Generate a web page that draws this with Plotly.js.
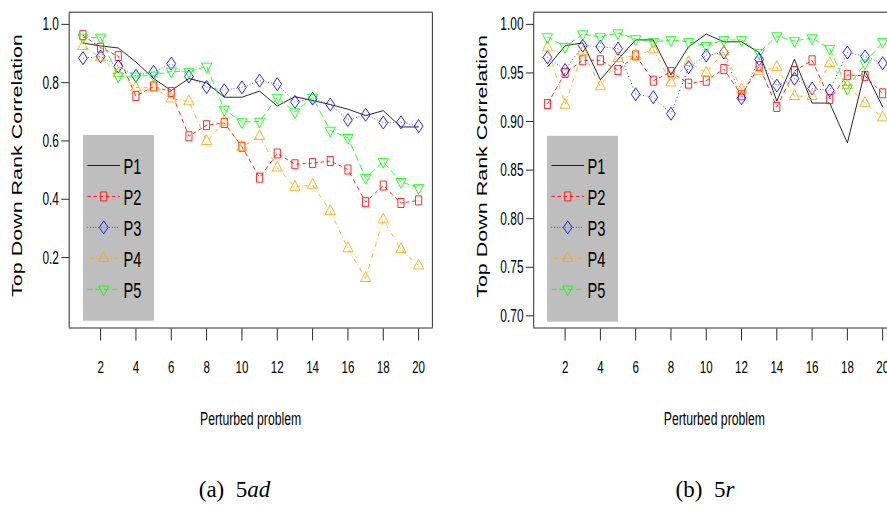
<!DOCTYPE html>
<html>
<head>
<meta charset="utf-8">
<script src="https://cdn.plot.ly/plotly-3.0.1.min.js"></script>
<style>
html,body{margin:0;padding:0;overflow:hidden;background:#fff;width:887px;height:505px}
#wrap{width:887px;height:505px;overflow:hidden;position:relative}
#chart{position:absolute;left:0;top:0;transform:scaleX(0.68);transform-origin:0 0}
.cap{position:absolute;top:477px;font-family:"Liberation Serif","Times New Roman",serif;font-size:23px;line-height:26px;color:#000;white-space:nowrap;transform:translateX(-50%)}
</style>
</head>
<body>
<div id="wrap"><div id="chart"></div>
<div class="cap" style="left:234.5px">(a)&nbsp;&nbsp;5<i>ad</i></div>
<div class="cap" style="left:705px">(b)&nbsp;&nbsp;5<i>r</i></div>
</div>
<script>
// ---- data ----
const problems = [1,2,3,4,5,6,7,8,9,10,11,12,13,14,15,16,17,18,19,20];
const seriesNames = ["P1","P2","P3","P4","P5"];
const xTicks = [2,4,6,8,10,12,14,16,18,20];
const yTicksAd = [0.2,0.4,0.6,0.8,1.0];
const yTicksR = [0.70,0.75,0.80,0.85,0.90,0.95,1.00];

// panel (a) 5ad
const p1_ad = [0.936,0.926,0.919,0.871,0.814,0.773,0.814,0.799,0.750,0.750,0.771,0.720,0.752,0.739,0.725,0.709,0.687,0.704,0.648,0.648];
const p2_ad = [0.963,0.920,0.891,0.754,0.787,0.768,0.616,0.654,0.662,0.580,0.474,0.557,0.520,0.524,0.531,0.502,0.390,0.447,0.387,0.396];
const p3_ad = [0.884,0.890,0.856,0.824,0.837,0.865,0.821,0.785,0.774,0.784,0.807,0.795,0.734,0.745,0.725,0.672,0.690,0.663,0.664,0.651];
const p4_ad = [0.925,0.886,0.831,0.783,0.783,0.745,0.735,0.599,0.665,0.579,0.616,0.508,0.442,0.449,0.359,0.231,0.129,0.330,0.228,0.172];
const p5_ad = [0.955,0.955,0.822,0.822,0.825,0.839,0.837,0.856,0.708,0.665,0.667,0.749,0.699,0.749,0.636,0.611,0.474,0.529,0.460,0.439];

// panel (b) 5r
const p1_r = [0.956,0.978,0.981,0.943,0.964,0.984,0.984,0.948,0.977,0.990,0.982,0.982,0.971,0.921,0.964,0.919,0.919,0.878,0.952,0.915];
const p2_r = [0.918,0.950,0.963,0.963,0.953,0.968,0.942,0.951,0.939,0.942,0.954,0.927,0.957,0.915,0.952,0.963,0.923,0.948,0.947,0.929];
const p3_r = [0.966,0.953,0.978,0.977,0.975,0.928,0.925,0.908,0.956,0.968,0.971,0.924,0.964,0.937,0.944,0.934,0.932,0.971,0.967,0.960];
const p4_r = [0.976,0.917,0.972,0.936,0.965,0.968,0.974,0.940,0.961,0.950,0.972,0.933,0.952,0.956,0.926,0.926,0.960,0.937,0.919,0.904];
const p5_r = [0.987,0.977,0.990,0.987,0.991,0.985,0.982,0.984,0.982,0.978,0.984,0.984,0.971,0.988,0.983,0.986,0.975,0.934,0.960,0.982];

// ---- geometry helpers (screen px -> paper fraction) ----
const S = 0.68;          // horizontal squeeze of the whole figure
const PW = 905;          // paper width in screen px (right panel runs past the window)
const PH = 505;
const fx = sx => sx / PW;
const fy = sy => 1 - sy / PH;

const SANS = "Liberation Sans, Arial, Helvetica, sans-serif";

const styles = [
  {color:"#000000", dash:"solid", symbol:null, size:0},
  {color:"#FF0000", dash:"5px,4px", symbol:"square-open", size:9},
  {color:"#0000FF", dash:"1px,3px", symbol:"diamond-open", size:10},
  {color:"#FFA500", dash:"1px,3px,5px,3px", symbol:"triangle-up-open", size:13},
  {color:"#00FF00", dash:"8px,4px", symbol:"triangle-down-open", size:13}
];

function makeTraces(seriesList, xa, ya, legendId){
  return seriesList.map((vals, i) => {
    const st = styles[i];
    const t = {
      x: problems, y: vals, name: seriesNames[i],
      xaxis: xa, yaxis: ya, legend: legendId,
      type: "scatter",
      mode: st.symbol ? "lines+markers" : "lines",
      line: {color: st.color, width: 1, dash: st.dash},
      cliponaxis: false
    };
    if (st.symbol) t.marker = {symbol: st.symbol, size: st.size, color: st.color, line:{width:1, color: st.color}};
    return t;
  });
}

const traces = [].concat(
  makeTraces([p1_ad,p2_ad,p3_ad,p4_ad,p5_ad], "x", "y", "legend"),
  makeTraces([p1_r,p2_r,p3_r,p4_r,p5_r], "x2", "y2", "legend2")
);

const axisCommon = {
  showgrid:false, zeroline:false, showline:true, mirror:true,
  linecolor:"#000", linewidth:1, ticks:"outside", tickcolor:"#000", tickwidth:1
};
const yDomain = [fy(327.5), fy(12.7)];

const legendCommon = {
  bgcolor:"rgba(0,0,0,0)", borderwidth:0, xanchor:"left", yanchor:"top",
  font:{family:SANS, size:21.5, color:"#000"}, tracegroupgap:0, itemwidth:48
};

const layout = {
  width: PW / S, height: PH,
  margin:{l:0,r:0,t:0,b:0,pad:0},
  paper_bgcolor:"#ffffff", plot_bgcolor:"#ffffff",
  showlegend:true,
  xaxis: Object.assign({}, axisCommon, {
    domain:[fx(69.5), fx(432)], range:[0.24,20.76], anchor:"y",
    tickvals:xTicks, ticklen:12, ticklabelstandoff:12,
    tickfont:{family:SANS, size:17, color:"#000"}
  }),
  yaxis: Object.assign({}, axisCommon, {
    domain:yDomain, range:[-0.04,1.04], anchor:"x",
    tickvals:yTicksAd, tickformat:".1f", ticklen:11,
    tickfont:{family:SANS, size:17.5, color:"#000"}
  }),
  xaxis2: Object.assign({}, axisCommon, {
    domain:[fx(534), fx(896)], range:[0.24,20.76], anchor:"y2",
    tickvals:xTicks, ticklen:12, ticklabelstandoff:12,
    tickfont:{family:SANS, size:17, color:"#000"}
  }),
  yaxis2: Object.assign({}, axisCommon, {
    domain:yDomain, range:[0.688,1.012], anchor:"x2",
    tickvals:yTicksR, tickformat:".2f", ticklen:11,
    tickfont:{family:SANS, size:17.5, color:"#000"}
  }),
  legend: Object.assign({}, legendCommon, {x: fx(84), y: fy(145)}),
  legend2: Object.assign({}, legendCommon, {x: fx(548), y: fy(145)}),
  shapes: [
    {type:"rect", xref:"paper", yref:"paper", x0:fx(83), x1:fx(154), y0:fy(320.7), y1:fy(135),
     fillcolor:"#BEBEBE", line:{width:0}, layer:"below"},
    {type:"rect", xref:"paper", yref:"paper", x0:fx(547), x1:fx(618), y0:fy(321.7), y1:fy(135.7),
     fillcolor:"#BEBEBE", line:{width:0}, layer:"below"}
  ],
  annotations: [
    {text:"Top Down Rank Correlation", textangle:-90, xref:"paper", yref:"paper",
     x:fx(17), y:fy(166), xanchor:"center", yanchor:"middle", showarrow:false,
     font:{family:SANS, size:21.5, color:"#000"}},
    {text:"Top Down Rank Correlation", textangle:-90, xref:"paper", yref:"paper",
     x:fx(482), y:fy(166), xanchor:"center", yanchor:"middle", showarrow:false,
     font:{family:SANS, size:21.5, color:"#000"}},
    {text:"Perturbed problem", xref:"paper", yref:"paper", x:fx(250.5), y:fy(419),
     xanchor:"center", yanchor:"middle", showarrow:false, font:{family:SANS, size:18, color:"#000"}},
    {text:"Perturbed problem", xref:"paper", yref:"paper", x:fx(714.5), y:fy(419),
     xanchor:"center", yanchor:"middle", showarrow:false, font:{family:SANS, size:18, color:"#000"}}
  ]
};

Plotly.newPlot("chart", traces, layout, {displayModeBar:false, staticPlot:true});
</script>
</body>
</html>
